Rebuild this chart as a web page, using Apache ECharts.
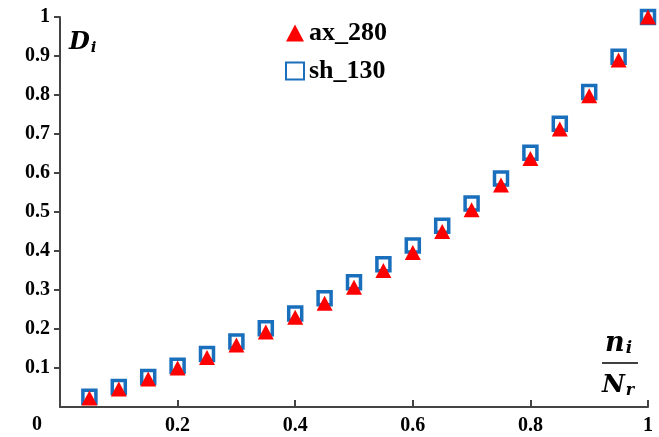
<!DOCTYPE html>
<html lang="en">
<head>
    <meta charset="UTF-8" />
    <title>Di</title>
    <script src="https://cdn.jsdelivr.net/npm/echarts@6/dist/echarts.min.js"></script>
</head>
<body style="margin:0">
<div id="main" style="width: 659px; height: 437px;"></div>
<script type="text/javascript">
    // x = n_i / N_r
    var xVals = [0.05, 0.1, 0.15, 0.2, 0.25, 0.3, 0.35, 0.4, 0.45, 0.5,
                 0.55, 0.6, 0.65, 0.7, 0.75, 0.8, 0.85, 0.9, 0.95, 1];
    var ax280 = [0.023, 0.046, 0.072, 0.100, 0.127, 0.159, 0.192, 0.230, 0.266, 0.307,
                 0.350, 0.396, 0.450, 0.506, 0.569, 0.637, 0.713, 0.798, 0.890, 1.000];
    var sh130 = [0.026, 0.051, 0.077, 0.106, 0.136, 0.168, 0.202, 0.240, 0.279, 0.320,
                 0.366, 0.414, 0.465, 0.522, 0.586, 0.652, 0.726, 0.808, 0.898, 1.000];
    var seriesNames = ['ax_280', 'sh_130'];

    function pairs(ys) {
        var out = [];
        for (var i = 0; i < xVals.length; i++) {
            out.push([xVals[i], ys[i]]);
        }
        return out;
    }

    var font = '"Liberation Serif", "Times New Roman", serif';
    var mathFont = '"DejaVu Serif", serif';
    var axisColor = '#444';

    function mathText(main, sub, size) {
        return {
            text: '{m|' + main + '}{s|' + sub + '}',
            rich: {
                m: { font: 'italic bold ' + size + 'px ' + mathFont, fill: '#000' },
                s: { font: 'italic bold ' + Math.round(size * 0.62) + 'px ' + mathFont, fill: '#000',
                     padding: [Math.round(size * 0.4), 0, 0, 1] }
            }
        };
    }

    var myChart = echarts.init(document.getElementById('main'));

    var option = {
        animation: false,
        grid: { left: 60, right: 11, top: 17, bottom: 30 },
        legend: {
            orient: 'vertical',
            left: 280,
            top: 15,
            itemWidth: 18,
            itemHeight: 17,
            itemGap: 12,
            data: seriesNames,
            textStyle: { fontFamily: font, fontWeight: 'bold', fontSize: 26, color: '#000' }
        },
        xAxis: {
            type: 'value',
            position: 'bottom',
            min: 0, max: 1, interval: 0.2,
            splitLine: { show: false },
            axisLine: { show: true, onZero: false, lineStyle: { color: axisColor, width: 2 } },
            axisTick: { show: true, inside: true, length: 7, lineStyle: { color: axisColor, width: 2 } },
            axisLabel: {
                showMinLabel: false,
                fontFamily: font, fontWeight: 'bold', fontSize: 20, color: '#000', margin: 9
            }
        },
        yAxis: {
            type: 'value',
            position: 'left',
            min: 0, max: 1, interval: 0.1,
            splitLine: { show: false },
            axisLine: { show: true, onZero: false, lineStyle: { color: axisColor, width: 2 } },
            axisTick: { show: true, inside: false, length: 6, lineStyle: { color: axisColor, width: 2 } },
            axisLabel: {
                showMinLabel: false,
                fontFamily: font, fontWeight: 'bold', fontSize: 20, color: '#000', margin: 10
            }
        },
        graphic: [
            { type: 'text', left: 32, top: 415,
              style: { text: '0', font: 'bold 20px ' + font, fill: '#000' } },
            { type: 'text', left: 69, top: 31, style: mathText('D', 'i', 24) },
            { type: 'text', left: 605, top: 330, style: mathText('n', 'i', 27) },
            { type: 'line', shape: { x1: 602, y1: 363, x2: 638, y2: 363 },
              style: { stroke: '#000', lineWidth: 1.5 } },
            { type: 'text', left: 602, top: 373, style: mathText('N', 'r', 25) }
        ],
        series: [
            {
                name: 'sh_130',
                type: 'scatter',
                symbol: 'rect',
                symbolSize: 13,
                z: 2,
                itemStyle: { color: '#fff', borderColor: '#1a6fbd', borderWidth: 3.5, opacity: 1 },
                data: pairs(sh130)
            },
            {
                name: 'ax_280',
                type: 'scatter',
                symbol: 'triangle',
                symbolSize: [16, 15],
                z: 3,
                itemStyle: { color: '#ff0000', opacity: 1 },
                data: pairs(ax280)
            }
        ]
    };

    myChart.setOption(option);
</script>
</body>
</html>
